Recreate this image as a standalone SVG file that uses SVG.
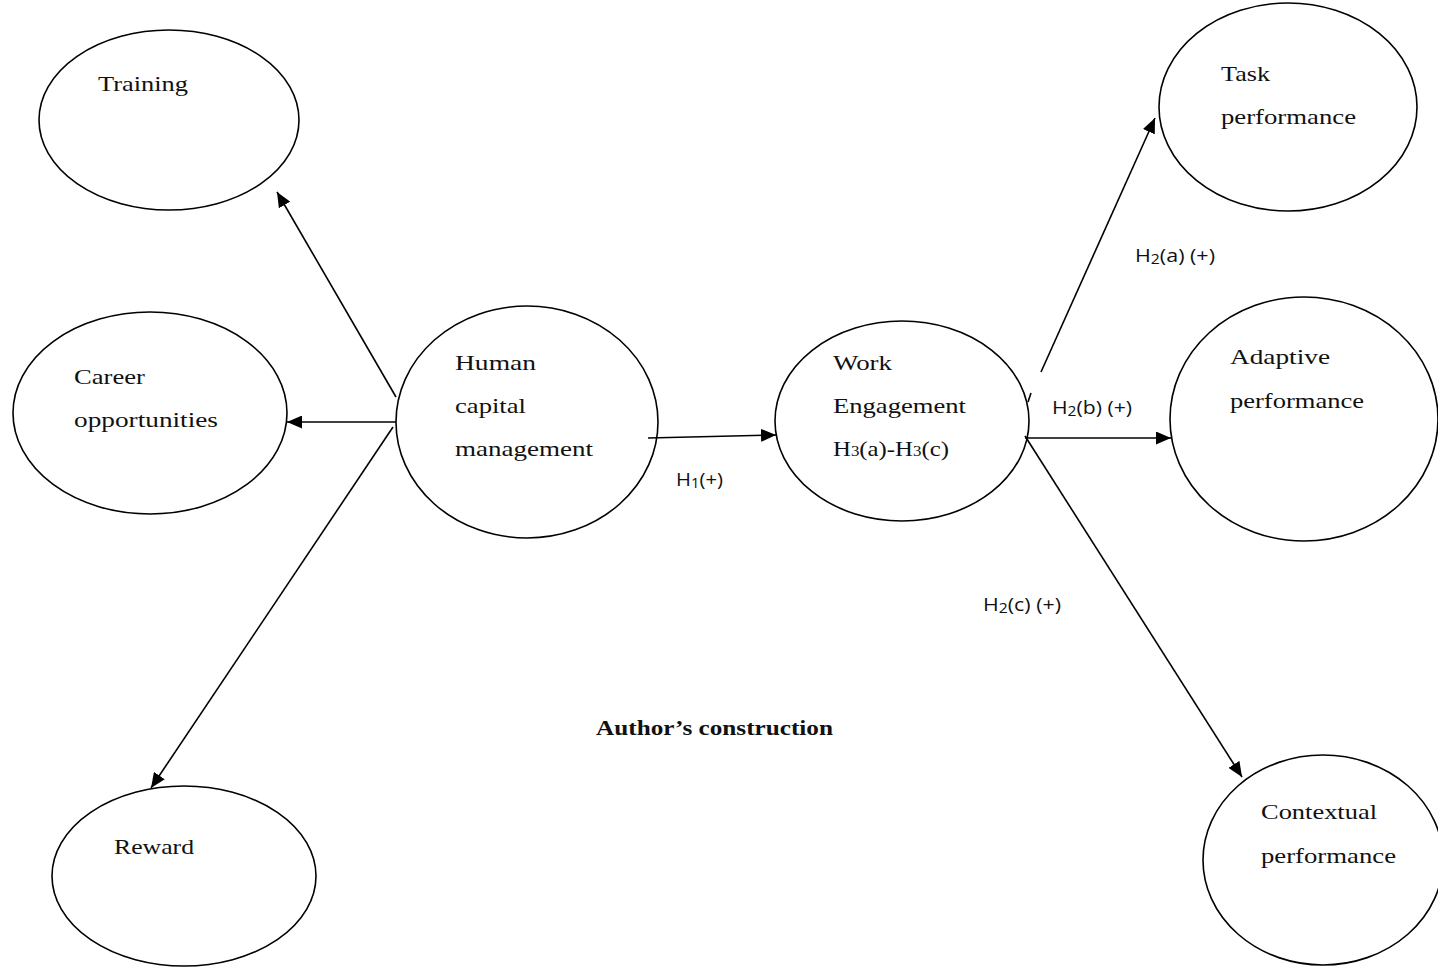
<svg xmlns="http://www.w3.org/2000/svg" width="1438" height="967" viewBox="0 0 1438 967">
<defs>
<marker id="ah" markerWidth="15" markerHeight="13" refX="15" refY="6.5" orient="auto" markerUnits="userSpaceOnUse"><path d="M0,0 L15,6.5 L0,13 z" fill="#000"/></marker>
<style>
.node ellipse{fill:#fff;stroke:#000;stroke-width:1.6}
.t{font-family:"Liberation Serif",serif;font-size:22px;fill:#111}
.s{font-family:"Open Sans","Liberation Sans",sans-serif;font-size:19px;fill:#111}
.b{font-family:"Liberation Serif",serif;font-size:22px;font-weight:bold;fill:#111}
.c line,.c path{stroke:#000;stroke-width:1.6;fill:none}
</style>
</defs>
<rect width="1438" height="967" fill="#fff"/>
<g id="training" class="node"><ellipse cx="169" cy="120" rx="130" ry="90"/><text class="t" x="98" y="91" textLength="90" lengthAdjust="spacingAndGlyphs">Training</text></g>
<g id="career" class="node"><ellipse cx="150" cy="413" rx="137" ry="101"/><text class="t" x="74" y="384" textLength="71" lengthAdjust="spacingAndGlyphs">Career</text><text class="t" x="74" y="427" textLength="144" lengthAdjust="spacingAndGlyphs">opportunities</text></g>
<g id="reward" class="node"><ellipse cx="184" cy="876" rx="132" ry="90"/><text class="t" x="114" y="854" textLength="80" lengthAdjust="spacingAndGlyphs">Reward</text></g>
<g id="hcm" class="node"><ellipse cx="527" cy="422" rx="131" ry="116"/><text class="t" x="455" y="370" textLength="81" lengthAdjust="spacingAndGlyphs">Human</text><text class="t" x="455" y="413" textLength="71" lengthAdjust="spacingAndGlyphs">capital</text><text class="t" x="455" y="456" textLength="138" lengthAdjust="spacingAndGlyphs">management</text></g>
<g id="we" class="node"><ellipse cx="902" cy="421" rx="127" ry="100"/><text class="t" x="833" y="370" textLength="59" lengthAdjust="spacingAndGlyphs">Work</text><text class="t" x="833" y="413" textLength="133" lengthAdjust="spacingAndGlyphs">Engagement</text><text class="t" x="833" y="456" textLength="116" lengthAdjust="spacingAndGlyphs">H<tspan font-size="15">3</tspan>(a)-H<tspan font-size="15">3</tspan>(c)</text></g>
<g id="task" class="node"><ellipse cx="1288" cy="107" rx="129" ry="104"/><text class="t" x="1221" y="81" textLength="49" lengthAdjust="spacingAndGlyphs">Task</text><text class="t" x="1221" y="124" textLength="135" lengthAdjust="spacingAndGlyphs">performance</text></g>
<g id="adaptive" class="node"><ellipse cx="1304" cy="419" rx="134" ry="122"/><text class="t" x="1230" y="364" textLength="100" lengthAdjust="spacingAndGlyphs">Adaptive</text><text class="t" x="1230" y="408" textLength="134" lengthAdjust="spacingAndGlyphs">performance</text></g>
<g id="contextual" class="node"><ellipse cx="1323" cy="860" rx="120" ry="105"/><text class="t" x="1261" y="819" textLength="116" lengthAdjust="spacingAndGlyphs">Contextual</text><text class="t" x="1261" y="863" textLength="135" lengthAdjust="spacingAndGlyphs">performance</text></g>
<g id="connectors" class="c">
<line x1="396" y1="397" x2="277" y2="192" marker-end="url(#ah)"/>
<line x1="396" y1="422" x2="287" y2="422" marker-end="url(#ah)"/>
<line x1="393" y1="427" x2="151" y2="788" marker-end="url(#ah)"/>
<line x1="648" y1="438" x2="776" y2="435" marker-end="url(#ah)"/>
<line x1="1041" y1="372" x2="1155" y2="118" marker-end="url(#ah)"/>
<path d="M1031,393 L1028,402"/>
<line x1="1025" y1="438" x2="1171" y2="438" marker-end="url(#ah)"/>
<line x1="1025" y1="436" x2="1242" y2="777" marker-end="url(#ah)"/>
</g>
<g id="labels">
<text class="s" x="676" y="486" textLength="47" lengthAdjust="spacingAndGlyphs">H<tspan font-size="14" dy="2">1</tspan><tspan dy="-2">(+)</tspan></text>
<text class="s" x="1135" y="262" textLength="80" lengthAdjust="spacingAndGlyphs">H<tspan font-size="14" dy="2">2</tspan><tspan dy="-2">(a) (+)</tspan></text>
<text class="s" x="1052" y="414" textLength="80" lengthAdjust="spacingAndGlyphs">H<tspan font-size="14" dy="2">2</tspan><tspan dy="-2">(b) (+)</tspan></text>
<text class="s" x="983" y="611" textLength="78" lengthAdjust="spacingAndGlyphs">H<tspan font-size="14" dy="2">2</tspan><tspan dy="-2">(c) (+)</tspan></text>
<text class="b" x="596" y="735" textLength="237" lengthAdjust="spacingAndGlyphs">Author’s construction</text>
</g>
</svg>
